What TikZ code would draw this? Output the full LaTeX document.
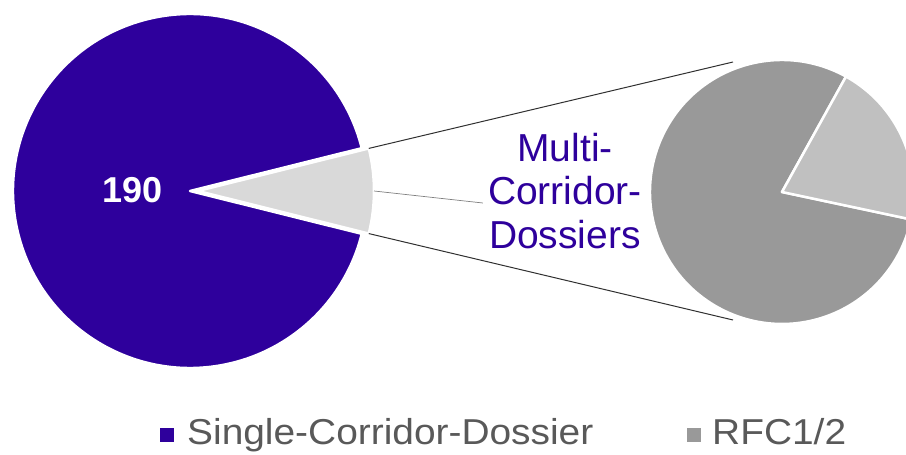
\documentclass[tikz,border=0pt]{standalone}
\usepackage{fontspec}
\setmainfont{Liberation Sans}
\newfontfamily\legendfont[FakeStretch=1.08]{Liberation Sans}
\usetikzlibrary{calc}
\definecolor{pieblue}{HTML}{2E009C}
\definecolor{slicegrey}{HTML}{D9D9D9}
\definecolor{darkgrey}{HTML}{999999}
\definecolor{lightgrey}{HTML}{C0C0C0}
\definecolor{legendtext}{HTML}{595959}
\definecolor{lineclr}{HTML}{303030}
\begin{document}
\begin{tikzpicture}[x=1pt,y=1pt,
  sector/.style={draw=white,line width=2.5pt,line join=round},
  series/.style={draw=lineclr,line width=1pt},
  leader/.style={draw=gray,line width=0.7pt},
  lbl/.style={inner sep=0pt,anchor=base,text=pieblue,font=\fontsize{39}{44}\selectfont},
  legsq/.style={rectangle,inner sep=0pt,minimum size=14pt},
  legtxt/.style={inner sep=0pt,anchor=base west,text=legendtext,font=\legendfont\fontsize{36}{40}\selectfont}]
\useasboundingbox (0,0) rectangle (906,455);
% left pie
\coordinate (lc) at (190,264);
\coordinate (gc) at (198,264);
\fill[pieblue,sector] (lc) -- ++(14:177) arc[start angle=14,end angle=346,radius=177] -- cycle;
\fill[slicegrey,sector] (gc) -- ++(-14:176) arc[start angle=-14,end angle=14,radius=176] -- cycle;
\path (gc) ++(14:176) coordinate (gt);
\path (gc) ++(-14:176) coordinate (gb);
\path (gc) ++(0:176) coordinate (gm);
\node[inner sep=0pt,anchor=base,text=white,font=\bfseries\fontsize{36}{40}\selectfont] (n190) at (133,252) {190};
% right pie
\coordinate (rc) at (782,263);
\fill[darkgrey,sector] (rc) -- ++(61:132) arc[start angle=61,end angle=348,radius=132] -- cycle;
\fill[lightgrey,sector] (rc) -- ++(-12:132) arc[start angle=-12,end angle=61,radius=132] -- cycle;
\coordinate (rt) at (733,393);
\coordinate (rb) at (733,135);
% series lines
\draw[series] (gt) -- (rt);
\draw[series] (gb) -- (rb);
% label
\node[lbl] (l1) at (565,293) {Multi-};
\node[lbl] (l2) at (565,250) {Corridor-};
\node[lbl] (l3) at (565,206) {Dossiers};
\coordinate (le) at ($(l2.base west)+(-5,2)$);
\draw[leader] (gm) -- (le);
% legend
\node[legsq,fill=pieblue] (sq1) at (166.5,19.5) {};
\node[legtxt] (t1) at (187,10) {Single-Corridor-Dossier};
\node[legsq,fill=darkgrey] (sq2) at (693.5,19.5) {};
\node[legtxt] (t2) at (712,10) {RFC1/2};
\end{tikzpicture}
\end{document}
